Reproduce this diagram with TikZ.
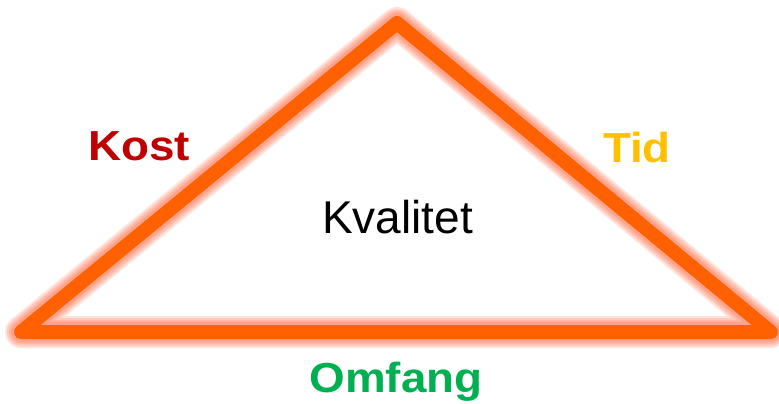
\documentclass[tikz,border=0pt]{standalone}
\usepackage{fontspec}
\setmainfont{Liberation Sans}
\definecolor{edgeorange}{HTML}{FF6000}
\definecolor{kostred}{HTML}{C00000}
\definecolor{tidgold}{HTML}{FFC000}
\definecolor{omfanggreen}{HTML}{00B050}
\tikzset{
  side/.style={edgeorange, line width=14pt, line join=round, line cap=round},
  glow/.style={edgeorange!55!red, line width=#1, line join=round, line cap=round, opacity=0.14},
  label/.style={inner sep=0pt, anchor=base, font=\fontsize{42}{46}\selectfont\bfseries, xscale=1.09}
}
\begin{document}
\begin{tikzpicture}[x=1pt,y=-1pt]
\useasboundingbox (0,0) rectangle (779,404);
\coordinate (apex) at (397,23);
\coordinate (left) at (21,332);
\coordinate (right) at (771,332);
% soft halo round the triangle
\foreach \w in {32,28,24,20} {
  \draw [glow=\w pt] (left) -- (apex) -- (right) -- cycle;
}
\draw [side] (left) -- (apex) -- (right) -- cycle;
\node [label, text=kostred] (kost) at (139,160) {Kost};
\node [label, text=tidgold] (tid) at (637,162) {Tid};
\node [label, text=omfanggreen] (omfang) at (396,392) {Omfang};
\node [inner sep=0pt, anchor=base, font=\fontsize{46}{50}\selectfont] (kvalitet) at (397.5,233) {Kvalitet};
\end{tikzpicture}
\end{document}
